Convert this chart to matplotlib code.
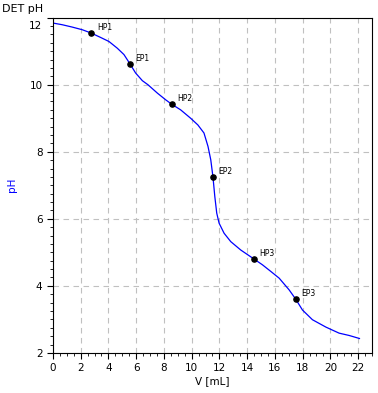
import numpy as np
import matplotlib.pyplot as plt
from matplotlib.ticker import MultipleLocator
from matplotlib.transforms import ScaledTranslation

# titration curve
vol = [0.0, 0.67, 1.39, 2.12, 2.77, 3.44, 4.04, 4.64, 5.12, 5.56, 5.96, 6.45,
       6.85, 7.53, 8.13, 8.56, 9.21, 9.93, 10.45, 10.89, 11.18, 11.38, 11.54,
       11.67, 11.81, 11.98, 12.34, 12.82, 13.54, 14.5, 15.1, 15.71, 16.31,
       17.03, 17.51, 17.99, 18.71, 19.68, 20.63, 21.36, 22.1]
ph = [11.84, 11.79, 11.72, 11.64, 11.54, 11.41, 11.29, 11.09, 10.9, 10.62, 10.35, 10.12,
      10.0, 9.75, 9.55, 9.42, 9.25, 9.0, 8.8, 8.56, 8.16, 7.76, 7.24,
      6.67, 6.17, 5.87, 5.57, 5.32, 5.07, 4.80, 4.63, 4.43, 4.23,
      3.88, 3.60, 3.28, 2.99, 2.77, 2.59, 2.52, 2.43]

pt_names = ["HP1", "EP1", "HP2", "EP2", "HP3", "EP3"]
pt_vol = [2.77, 5.56, 8.56, 11.54, 14.5, 17.51]
pt_ph = [11.54, 10.62, 9.42, 7.24, 4.80, 3.60]

plt.rcParams['font.size'] = 7.5

fig = plt.figure(figsize=(3.78, 3.93), dpi=100)
ax = fig.add_axes([0.140, 0.102, 0.844, 0.853])

ax.plot(vol, ph, color='#0000ff', linewidth=0.9)
ax.scatter(pt_vol, pt_ph, s=14, color='black', zorder=3)
for name, x, y in zip(pt_names, pt_vol, pt_ph):
    ax.annotate(name, (x, y), xytext=(4, 2), textcoords='offset points', fontsize=5.5)

ax.set_xlim(0, 23)
ax.set_ylim(2, 12)
ax.xaxis.set_major_locator(MultipleLocator(2))
ax.xaxis.set_minor_locator(MultipleLocator(0.5))
ax.set_yticks([2, 4, 6, 8, 10, 12])
ax.yaxis.set_minor_locator(MultipleLocator(0.25))
ax.tick_params(which='major', length=4, width=0.8, direction='out')
ax.tick_params(which='minor', length=2, width=0.6, direction='out')
ax.grid(True, which='major', linestyle=(0, (5, 4)), color='#c0c0c0', linewidth=0.8)

# top label sits a bit lower, under the title
top = ax.get_yticklabels()[-1]
top.set_transform(top.get_transform() + ScaledTranslation(0, -5 / 72, fig.dpi_scale_trans))

ax.set_xlabel("V [mL]", labelpad=2)
ax.set_ylabel("pH", color='#0000ff', labelpad=9)
fig.text(0.005, 0.99, "DET pH", ha='left', va='top', fontsize=8)

fig.savefig("out.png", dpi=100)
